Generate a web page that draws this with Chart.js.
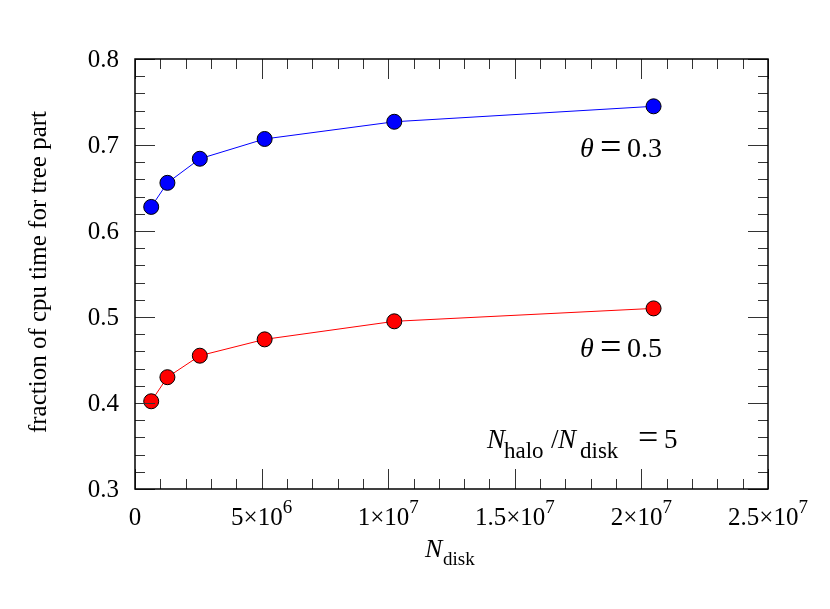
<!DOCTYPE html>
<html>
<head>
<meta charset="utf-8">
<script src="https://cdn.jsdelivr.net/npm/chart.js@4"></script>
<style>
  html, body { margin: 0; padding: 0; background: #fff; }
  #wrap { width: 830px; height: 609px; }
</style>
</head>
<body>
<div id="wrap"><canvas id="chart" width="830" height="609"></canvas></div>
<script>
// N_disk values and the tree-part cpu fraction for each opening angle
const nDisk = [640000, 1280000, 2560000, 5120000, 10240000, 20480000];
const theta03 = [0.628, 0.656, 0.684, 0.707, 0.727, 0.745];
const theta05 = [0.402, 0.430, 0.455, 0.474, 0.495, 0.510];
const seriesLabels = ["0.3", "0.5"];
const xTickLabels = [["0", null], ["5", "6"], ["1", "7"], ["1.5", "7"], ["2", "7"], ["2.5", "7"]];
const xTickValues = [0, 5e6, 1e7, 1.5e7, 2e7, 2.5e7];
const yTickValues = [0.3, 0.4, 0.5, 0.6, 0.7, 0.8];

const SERIF = "'Liberation Serif', 'DejaVu Serif', serif";

function pts(ys) {
    return nDisk.map((x, i) => ({ x: x, y: ys[i] }));
}

// frame, inward ticks, tick labels and annotations
const decor = {
    id: "decor",
    afterDraw(chart) {
        const c = chart.ctx;
        const a = chart.chartArea;
        const xs = chart.scales.x, ys = chart.scales.y;
        c.save();

        // ticks
        c.strokeStyle = "#333";
        c.lineWidth = 1;
        c.beginPath();
        for (let v = 0; v <= 25e6; v += 1e6) {
            const px = Math.round(xs.getPixelForValue(v)) + 0.5;
            const len = (v % 5e6 === 0) ? 20 : 10;
            c.moveTo(px, a.bottom); c.lineTo(px, a.bottom - len);
            c.moveTo(px, a.top); c.lineTo(px, a.top + len);
        }
        for (let i = 0; i <= 25; i++) {
            const v = 0.3 + i * 0.02;
            const py = Math.round(ys.getPixelForValue(v)) + 0.5;
            const len = (i % 5 === 0) ? 20 : 10;
            c.moveTo(a.left, py); c.lineTo(a.left + len, py);
            c.moveTo(a.right, py); c.lineTo(a.right - len, py);
        }
        c.stroke();

        // frame
        c.strokeStyle = "#000";
        c.lineWidth = 1.5;
        c.strokeRect(a.left, a.top, a.right - a.left, a.bottom - a.top);

        c.fillStyle = "#000";
        c.textBaseline = "alphabetic";

        // y tick labels
        c.font = "25px " + SERIF;
        c.textAlign = "right";
        yTickValues.forEach(v => {
            c.fillText(v.toFixed(1), a.left - 16, ys.getPixelForValue(v) + 8);
        });

        // x tick labels with superscript exponent
        xTickValues.forEach((v, i) => {
            const [mant, exp] = xTickLabels[i];
            const px = xs.getPixelForValue(v);
            c.font = "25px " + SERIF;
            let base = exp ? mant + "\u00d710" : mant;
            const w1 = c.measureText(base).width;
            c.font = "19px " + SERIF;
            const w2 = exp ? c.measureText(exp).width : 0;
            const x0 = px - (w1 + w2) / 2;
            c.textAlign = "left";
            c.font = "25px " + SERIF;
            c.fillText(base, x0, 525);
            if (exp) {
                c.font = "19px " + SERIF;
                c.fillText(exp, x0 + w1, 513);
            }
        });

        // positioned text pieces: [text, x, y, size, italic]
        function pieces(list) {
            c.textAlign = "left";
            list.forEach(p => {
                c.font = (p[4] ? "italic " : "") + p[3] + "px " + SERIF;
                c.fillText(p[0], p[1], p[2]);
            });
        }

        // x title
        pieces([["N", 425, 557, 26, true], ["disk", 443, 565, 19, false]]);

        // y title
        c.save();
        c.translate(46, 272);
        c.rotate(-Math.PI / 2);
        c.font = "25px " + SERIF;
        c.textAlign = "center";
        c.fillText("fraction of cpu time for tree part", 0, 0);
        c.restore();

        // theta labels
        function thetaLabel(val, y) {
            pieces([["\u03b8", 580, y, 28, true], ["=", 600, y + 1.5, 38, false], [val, 627, y, 28, false]]);
        }
        thetaLabel(seriesLabels[0], 157);
        thetaLabel(seriesLabels[1], 357);

        // ratio label
        pieces([
            ["N", 487, 448, 27, true], ["halo", 504, 458, 23, false],
            ["/", 551, 448, 27, false],
            ["N", 558, 448, 27, true], ["disk", 580, 458, 23, false],
            ["=", 638, 449, 36, false], ["5", 664, 448, 27, false]
        ]);

        c.restore();
    }
};

const ctx = document.getElementById("chart");
new Chart(ctx, {
    type: "scatter",
    data: {
        datasets: [
            {
                data: pts(theta03),
                showLine: true,
                borderColor: "#0000ff",
                borderWidth: 1,
                backgroundColor: "#0000ff",
                pointBorderColor: "#000",
                pointBorderWidth: 1,
                pointRadius: 7.5
            },
            {
                data: pts(theta05),
                showLine: true,
                borderColor: "#ff0000",
                borderWidth: 1,
                backgroundColor: "#ff0000",
                pointBorderColor: "#000",
                pointBorderWidth: 1,
                pointRadius: 7.5
            }
        ]
    },
    options: {
        responsive: false,
        animation: false,
        layout: { padding: { left: 127, right: 62, top: 59, bottom: 112 } },
        plugins: { legend: { display: false }, tooltip: { enabled: false } },
        scales: {
            x: {
                type: "linear", min: 0, max: 2.5e7,
                ticks: { display: false },
                grid: { display: false },
                border: { display: false }
            },
            y: {
                type: "linear", min: 0.3, max: 0.8,
                ticks: { display: false },
                grid: { display: false },
                border: { display: false }
            }
        }
    },
    plugins: [decor]
});
</script>
</body>
</html>
